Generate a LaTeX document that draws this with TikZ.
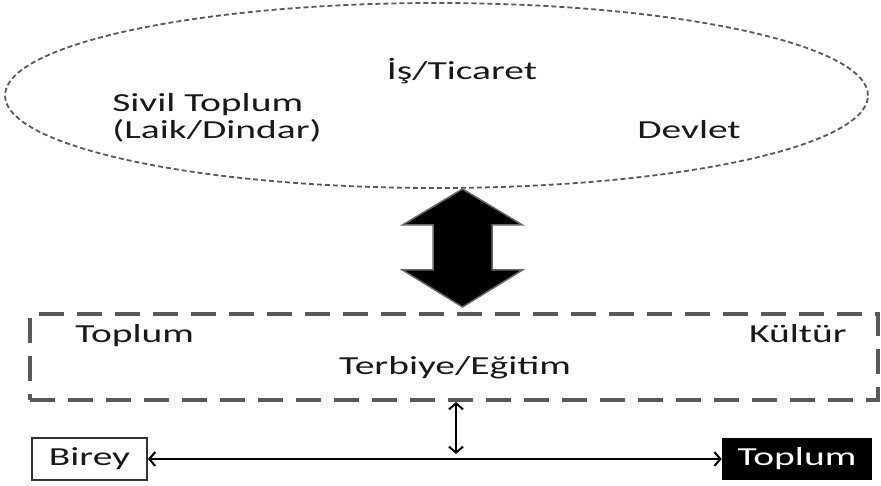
\documentclass[tikz,border=0pt]{standalone}
\usepackage{fontspec}
\setmainfont{Carlito}
\usetikzlibrary{arrows.meta,shapes.geometric}

\begin{document}
\begin{tikzpicture}[x=1pt,y=-1pt,
        lbl/.style={xscale=1.52,inner sep=0,font=\fontsize{26}{27}\selectfont,text=black!90},
        birey/.style={lbl,draw=black!80,line width=1.2pt,minimum width=75.7,minimum height=42},
        toplum/.style={lbl,fill=black,text=white,minimum width=98.7,minimum height=42},
        link/.style={line width=2pt,{Straight Barb[length=6pt,width=14pt]}-{Straight Barb[length=6pt,width=14pt]}}]
        \useasboundingbox (0,0) rectangle (881,486);
        % upper level
        \node[ellipse,draw=black!65,dash pattern=on 5pt off 3pt,line width=1.8pt,
              minimum width=863,minimum height=185] (world) at (436.5,95.5) {};
        \node[lbl,anchor=base] (is) at (462,80) {İş/Ticaret};
        \node[lbl,anchor=base west] (sivil) at (112,112) {Sivil Toplum};
        \node[lbl,anchor=base west] (laik) at (112,139) {(Laik/Dindar)};
        \node[lbl,anchor=base west] (devlet) at (637,139) {Devlet};
        % big arrow
        \fill[black,draw=black!60,line width=1.5pt] (462.5,189) -- (522.5,225) -- (492,225) -- (492,270)
          -- (522.5,270) -- (462.5,307) -- (402.5,270) -- (433,270) -- (433,225) -- (402.5,225) -- cycle;
        % middle level
        \node[draw=black!65,line width=4pt,dash pattern=on 25pt off 13pt,inner sep=0,
              minimum width=848,minimum height=86] (frame) at (454,357) {};
        \node[lbl,anchor=base west] (toplum1) at (75,342) {Toplum};
        \node[lbl,anchor=base east] (kultur) at (847,342) {Kültür};
        \node[lbl,anchor=base] (egitim) at (455,374) {Terbiye/Eğitim};
        % lower level
        \node[birey]  (birey) at (89.5,459) {Birey};
        \node[toplum] (toplum2) at (797,459) {Toplum};
        \coordinate (meet) at (456,454);
        \draw[link] (birey) -- (toplum2);
        \draw[link] (frame.south -| meet) -- (meet);
      \end{tikzpicture}
\end{document}
